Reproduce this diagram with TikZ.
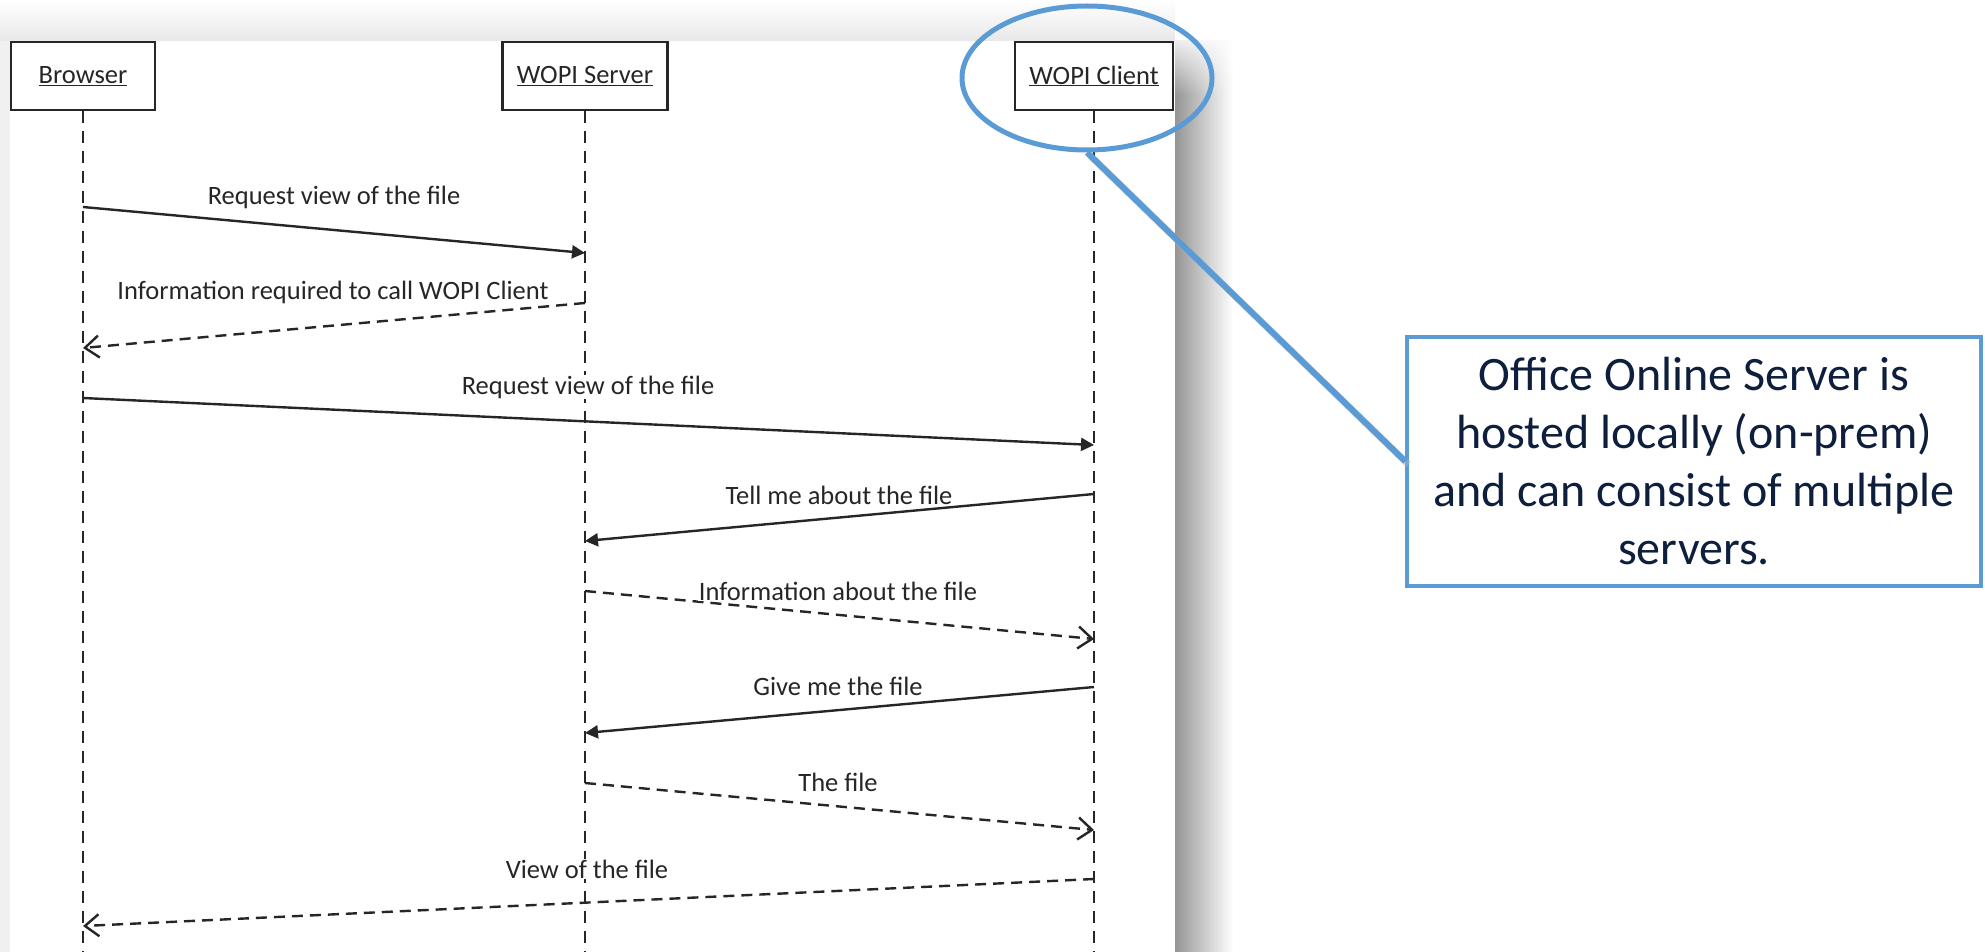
\documentclass[tikz,border=0pt]{standalone}
\usepackage{fontspec}
\setmainfont{Carlito}
\usetikzlibrary{arrows.meta,shapes.geometric,fadings}
\definecolor{accent}{HTML}{5B9BD5}
\definecolor{notetext}{HTML}{0E1F3D}
\definecolor{ink}{HTML}{262626}
\definecolor{shadowdark}{HTML}{959595}
\begin{document}
\begin{tikzpicture}[x=1pt,y=-1pt,
  lbl/.style={font=\fontsize{26.5}{30}\selectfont, text=ink, fill=white, inner sep=1pt},
  actor/.style={draw=ink, line width=2.2pt, fill=white, minimum height=68pt, font=\fontsize{26.5}{30}\selectfont, text=ink, inner sep=0pt},
  lifeline/.style={draw=ink, line width=1.8pt, dash pattern=on 12pt off 8pt},
  callmsg/.style={draw=ink, line width=2.4pt, -{Triangle[length=13pt,width=13pt]}},
  retmsg/.style={draw=ink, line width=2.4pt, dash pattern=on 11pt off 7pt, -{Straight Barb[length=14pt,width=22pt]}},
]
\useasboundingbox (0,0) rectangle (1985,952);
% page backdrop
\shade[top color=white, bottom color=black!9] (0,0) rectangle (1175,41);
\fill[black!6] (0,41) rectangle (10,952);
\shade[left color=shadowdark, right color=white] (1175,41) rectangle (1233,952);
\fill[white, path fading=south] (1175,30) rectangle (1233,95);
\fill[white] (10,41) rectangle (1175,952);

% actors
\node[actor, minimum width=144pt] (browser) at (83,76) {\underline{Browser}};
\node[actor, minimum width=165pt] (server) at (585,76) {\underline{WOPI Server}};
\node[actor, minimum width=158pt] (client) at (1094,76) {\underline{WOPI Client}};

% lifelines
\coordinate (bEnd) at (83,952);
\coordinate (sEnd) at (585,952);
\coordinate (cEnd) at (1094,952);
\draw[lifeline] (browser.south) -- (bEnd);
\draw[lifeline] (server.south) -- (sEnd);
\draw[lifeline] (client.south) -- (cEnd);

% message end points
\coordinate (m1a) at (83,207);   \coordinate (m1b) at (585,253);
\coordinate (m2a) at (585,303);  \coordinate (m2b) at (83,348);
\coordinate (m3a) at (83,398);   \coordinate (m3b) at (1094,445);
\coordinate (m4a) at (1094,494); \coordinate (m4b) at (585,541);
\coordinate (m5a) at (585,591);  \coordinate (m5b) at (1094,639);
\coordinate (m6a) at (1094,687); \coordinate (m6b) at (585,733);
\coordinate (m7a) at (585,783);  \coordinate (m7b) at (1094,830);
\coordinate (m8a) at (1094,879); \coordinate (m8b) at (83,926);

\draw[callmsg] (m1a) -- (m1b);
\draw[retmsg]  (m2a) -- (m2b);
\draw[callmsg] (m3a) -- (m3b);
\draw[callmsg] (m4a) -- (m4b);
\draw[retmsg]  (m5a) -- (m5b);
\draw[callmsg] (m6a) -- (m6b);
\draw[retmsg]  (m7a) -- (m7b);
\draw[retmsg]  (m8a) -- (m8b);

\node[lbl] (l1) at (334,197) {Request view of the file};
\node[lbl] (l2) at (333,292) {Information required to call WOPI Client};
\node[lbl] (l3) at (588,387) {Request view of the file};
\node[lbl] (l4) at (839,495) {Tell me about the file};
\node[lbl] (l5) at (838,591) {Information about the file};
\node[lbl] (l6) at (838,686) {Give me the file};
\node[lbl] (l7) at (838,782) {The file};
\node[lbl] (l8) at (587,869) {View of the file};

% highlight and callout
\node[ellipse, draw=accent, line width=5pt, minimum width=250pt, minimum height=144pt, inner sep=0pt] (hl) at (1087,78) {};
\node[draw=accent, line width=3.2pt, fill=white, minimum width=574pt, minimum height=249pt, align=center, text=notetext, font=\fontsize{48}{58}\selectfont] (note) at (1694,461.5) {Office Online Server is\\hosted locally (on-prem)\\and can consist of multiple\\servers.};
\draw[black!30, line width=7pt, opacity=0.5] ([shift={(3,3)}]hl.south) -- ([shift={(3,3)}]note.west);
\draw[accent, line width=6pt] (hl.south) -- (note.west);
\end{tikzpicture}
\end{document}
